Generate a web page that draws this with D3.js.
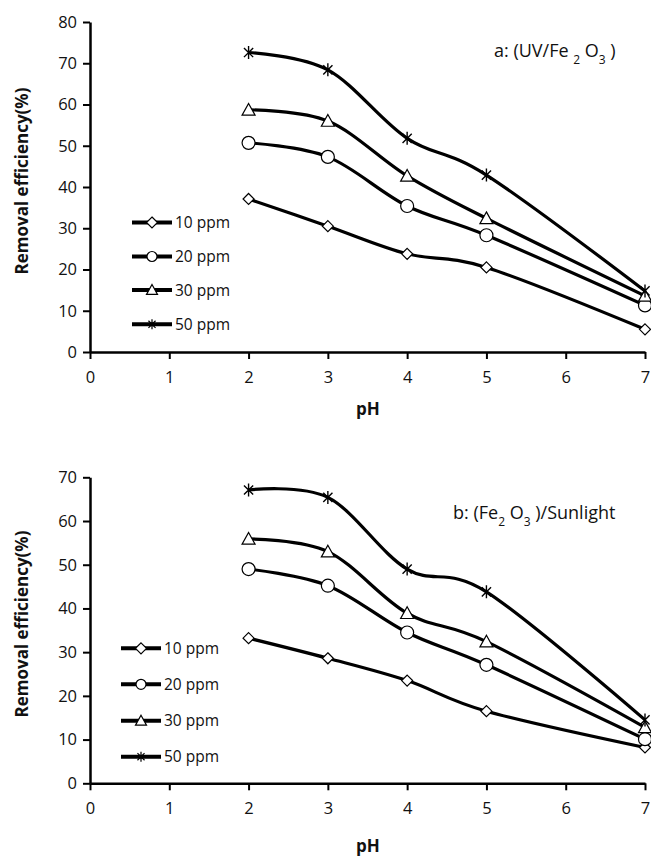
<!DOCTYPE html>
<html><head><meta charset="utf-8">
<script src="https://cdn.jsdelivr.net/npm/d3@7"></script>
<style>
body{margin:0;background:#fff;}
svg{display:block;font-family:"Open Sans","Noto Sans",sans-serif;}
</style></head>
<body><svg id="c" width="651" height="858"></svg>
<script>
const pH = [2, 3, 4, 5, 7];
const seriesNames = ["10 ppm", "20 ppm", "30 ppm", "50 ppm"];
const markerTypes = ["diamond", "circle", "triangle", "star"];
const xTicks = [0, 1, 2, 3, 4, 5, 6, 7];

// Chart a: UV/Fe2O3
const a10 = [37.1, 30.5, 23.8, 20.5, 5.5];
const a20 = [50.7, 47.3, 35.4, 28.3, 11.3];
const a30 = [58.7, 56.0, 42.7, 32.4, 13.6];
const a50 = [72.6, 68.4, 51.8, 42.9, 14.8];
const aYTicks = [0, 10, 20, 30, 40, 50, 60, 70, 80];

// Chart b: Fe2O3/Sunlight
const b10 = [33.2, 28.6, 23.5, 16.5, 8.2];
const b20 = [49.0, 45.2, 34.5, 27.1, 10.1];
const b30 = [55.9, 53.0, 38.9, 32.4, 12.8];
const b50 = [67.1, 65.4, 49.0, 43.8, 14.5];
const bYTicks = [0, 10, 20, 30, 40, 50, 60, 70];

const svg = d3.select("#c");

function markerPath(type, s) {
  const h = s / 2;
  if (type === "diamond") return `M0,${-h}L${h},0L0,${h}L${-h},0Z`;
  if (type === "circle") return `M${h},0A${h},${h} 0 1,1 ${-h},0A${h},${h} 0 1,1 ${h},0Z`;
  if (type === "triangle") { const t = s * 0.9; return `M0,${-t*0.55}L${h},${t*0.45}L${-h},${t*0.45}Z`; }
  if (type === "star") {
    const r = h, c = r * Math.cos(Math.PI / 4);
    return `M0,${-r}L0,${r}M${-c},${-c}L${c},${c}M${-c},${c}L${c},${-c}`;
  }
}
const markerSize = {diamond: 11, circle: 13, triangle: 13, star: 13};
const legendMarkerSize = {diamond: 11, circle: 10, triangle: 11, star: 10};

function drawChart(cfg) {
  const g = svg.append("g");
  const x = d3.scaleLinear().domain([0, 7]).range([90, 645]);
  const y = d3.scaleLinear().domain([0, cfg.yMax]).range([cfg.y0, cfg.yTop]);

  const yAxis = d3.axisLeft(y).tickValues(cfg.yTicks).tickFormat(d3.format("d")).tickSize(7).tickPadding(6).tickSizeOuter(0);
  const xAxis = d3.axisBottom(x).tickValues(xTicks).tickFormat(d3.format("d")).tickSize(7).tickPadding(12).tickSizeOuter(0);

  const gy = g.append("g").attr("transform", "translate(90,0)").call(yAxis);
  const gx = g.append("g").attr("transform", `translate(0,${cfg.y0})`).call(xAxis);
  [gy, gx].forEach(ax => {
    ax.select(".domain").attr("stroke", "#000").attr("stroke-width", 2.5);
    ax.selectAll(".tick line").attr("stroke", "#000").attr("stroke-width", 2);
    ax.selectAll(".tick text").attr("fill", "#111").style("font-size", "16.5px")
      .style("font-family", "'Open Sans',sans-serif");
  });

  const line = d3.line().x((d, i) => x(pH[i])).y(d => y(d)).curve(d3.curveCardinal.tension(0));

  cfg.series.forEach((vals, si) => {
    g.append("path").attr("d", line(vals)).attr("fill", "none")
      .attr("stroke", "#000").attr("stroke-width", 3.2);
  });
  cfg.series.forEach((vals, si) => {
    const t = markerTypes[si];
    g.selectAll(null).data(vals).enter().append("path")
      .attr("transform", (d, i) => `translate(${x(pH[i])},${y(d)})`)
      .attr("d", markerPath(t, markerSize[t]))
      .attr("fill", t === "star" ? "none" : "#fff")
      .attr("stroke", "#000").attr("stroke-width", t === "star" ? 1.4 : 1.2);
  });

  // legend
  seriesNames.forEach((name, i) => {
    const ly = cfg.legY[i];
    const t = markerTypes[i];
    g.append("line").attr("x1", cfg.legX).attr("x2", cfg.legX + 40)
      .attr("y1", ly).attr("y2", ly).attr("stroke", "#000").attr("stroke-width", 4);
    g.append("path").attr("transform", `translate(${cfg.legX + 20},${ly})`)
      .attr("d", markerPath(t, legendMarkerSize[t]))
      .attr("fill", t === "star" ? "none" : "#fff").attr("stroke", "#000").attr("stroke-width", 1.2);
    g.append("text").attr("x", cfg.legX + 43).attr("y", ly + 5.5)
      .style("font-size", "15.5px").attr("fill", "#111").text(name);
  });

  // y label
  g.append("text")
    .attr("transform", `translate(28,${cfg.yLabelC}) rotate(-90)`)
    .attr("text-anchor", "middle").style("font-size", "17px").style("font-weight", "bold")
    .attr("fill", "#111").text("Removal efficiency(%)");
  // x label
  g.append("text").attr("x", 368).attr("y", cfg.pHy).attr("text-anchor", "middle")
    .style("font-size", "17px").style("font-weight", "bold").attr("fill", "#111").text("pH");

  // annotation
  const an = g.append("text").attr("x", cfg.annX).attr("y", cfg.annY)
    .style("font-size", "18px").attr("fill", "#111");
  cfg.ann.forEach(p => {
    const ts = an.append("tspan").text(p.t);
    if (p.sub) ts.style("font-size", "12px").attr("dy", 7);
    else if (p.back) ts.attr("dy", -7);
  });
}

drawChart({
  yMax: 80, y0: 352, yTop: 22, yTicks: aYTicks,
  series: [a10, a20, a30, a50],
  legX: 132, legY: [222.5, 256.5, 290, 324.3],
  yLabelC: 181, pHy: 415,
  annX: 494, annY: 57,
  ann: [{t: "a: (UV/Fe "}, {t: "2", sub: true}, {t: " O", back: true}, {t: "3", sub: true}, {t: " )", back: true}]
});

drawChart({
  yMax: 70, y0: 783.3, yTop: 477.3, yTicks: bYTicks,
  series: [b10, b20, b30, b50],
  legX: 121, legY: [648.3, 684.3, 720.7, 756.7],
  yLabelC: 624, pHy: 852,
  annX: 453, annY: 519,
  ann: [{t: "b: (Fe"}, {t: "2", sub: true}, {t: " O", back: true}, {t: "3", sub: true}, {t: " )/Sunlight", back: true}]
});
</script></body></html>
